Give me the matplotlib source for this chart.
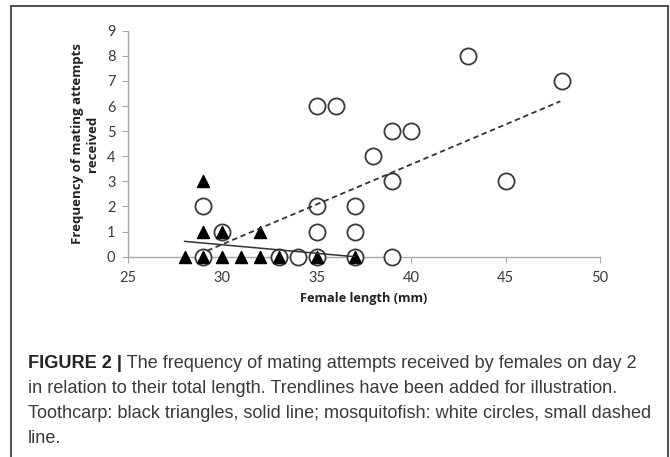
import matplotlib.pyplot as plt
from matplotlib.lines import Line2D

# mosquitofish (white circles)
fish_len = [29, 29, 30, 33, 34, 35, 35, 35, 35, 36, 37, 37, 37, 38, 39, 39, 39, 40, 43, 45, 48]
fish_att = [2, 0, 1, 0, 0, 6, 2, 1, 0, 6, 2, 1, 0, 4, 5, 3, 0, 5, 8, 3, 7]

# toothcarp (black triangles)
tooth_len = [28, 29, 29, 29, 30, 30, 31, 32, 32, 33, 35, 37]
tooth_att = [0, 0, 1, 3, 1, 0, 0, 0, 1, 0, 0, 0]

# trendline end points
fish_trend_x = [29.2, 47.9]
fish_trend_y = [0.24, 6.19]
tooth_trend_x = [28.0, 37.0]
tooth_trend_y = [0.61, 0.0]

xticks = [25, 30, 35, 40, 45, 50]
yticks = list(range(10))

caption_bold = 'FIGURE 2 |'
caption_lines = [' The frequency of mating attempts received by females on day 2',
                 'in relation to their total length. Trendlines have been added for illustration.',
                 'Toothcarp: black triangles, solid line; mosquitofish: white circles, small dashed',
                 'line.']

fig = plt.figure(figsize=(6.7, 4.57), dpi=100)
ax = fig.add_axes([0.191, 0.4383, 0.7045, 0.4945])

ax.scatter(fish_len, fish_att, s=135, facecolor='white', edgecolor='#3a3a3a',
           linewidth=1.3, zorder=3, clip_on=False)
ax.scatter(tooth_len, tooth_att, s=75, marker='^', color='black', zorder=4, clip_on=False)
ax.plot(fish_trend_x, fish_trend_y, color='#333333', linestyle=(0, (3, 2)), linewidth=1.3, zorder=5)
ax.plot(tooth_trend_x, tooth_trend_y, color='#333333', linewidth=1.1, zorder=5)

ax.set_xlim(25, 50)
ax.set_ylim(0, 9)
ax.set_xticks(xticks)
ax.set_yticks(yticks)
for s in ['top', 'right']:
    ax.spines[s].set_visible(False)
for s in ['left', 'bottom']:
    ax.spines[s].set_color('#a8a8a8')
    ax.spines[s].set_linewidth(1.0)
ax.tick_params(colors='#a8a8a8', length=4, labelcolor='#3a3a3a', labelsize=10.5)
for lab in ax.get_xticklabels() + ax.get_yticklabels():
    lab.set_family('Lato')
ax.tick_params(axis='x', pad=6)
ax.tick_params(axis='y', pad=5)

ax.set_xlabel('Female length (mm)', fontsize=9.2, fontweight='bold', family='Open Sans',
              color='#222222', labelpad=5)
ax.set_ylabel('Frequency of mating attempts\nreceived', fontsize=9.5, fontweight='bold',
              family='Open Sans', color='#222222', labelpad=6, linespacing=1.15)

# frame around the figure panel
fig.add_artist(Line2D([11 / 670, 11 / 670], [0, 1 - 6 / 457], color='#555555', lw=1.5))
fig.add_artist(Line2D([11 / 670, 668 / 670], [1 - 6 / 457, 1 - 6 / 457], color='#555555', lw=1.5))
fig.add_artist(Line2D([668 / 670, 668 / 670], [0, 1 - 6 / 457], color='#555555', lw=1.5))

# caption
cap_font = ['Liberation Sans', 'DejaVu Sans']
baselines = [368, 393, 418, 443]
t = fig.text(28 / 670, 1 - baselines[0] / 457, caption_bold, fontsize=13.1, fontweight='bold',
             family=cap_font, color='#222222', va='baseline')
fig.canvas.draw()
bb = t.get_window_extent()
fig.text(bb.x1 / 670, 1 - baselines[0] / 457, caption_lines[0], fontsize=13.1, family=cap_font,
         color='#3a3a3a', va='baseline')
for line, yb in zip(caption_lines[1:], baselines[1:]):
    fig.text(28 / 670, 1 - yb / 457, line, fontsize=13.1, family=cap_font,
             color='#3a3a3a', va='baseline')

fig.savefig('out.png', dpi=100)
